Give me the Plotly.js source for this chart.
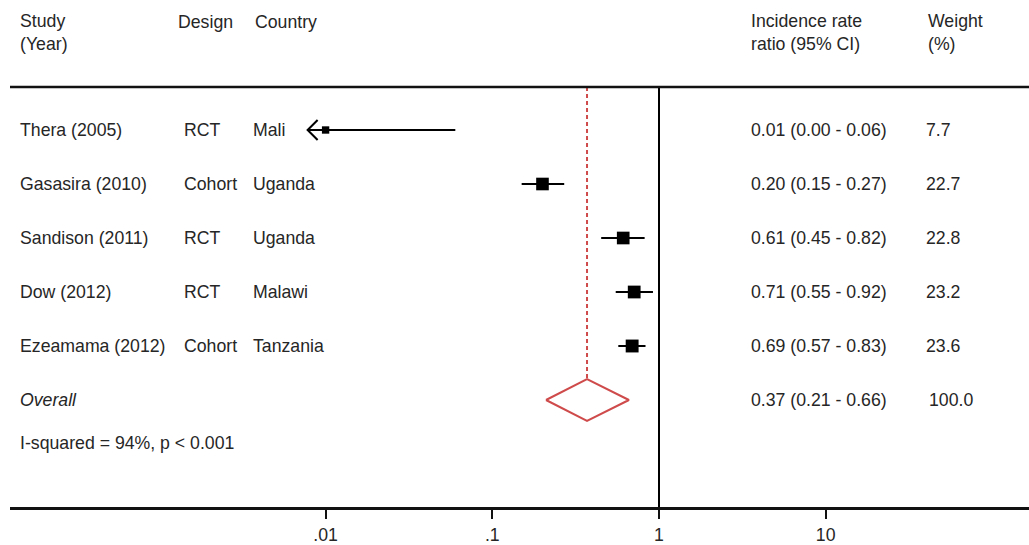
<!DOCTYPE html>
<html>
<head>
<meta charset="utf-8">
<script src="https://cdn.plot.ly/plotly-3.0.1.min.js"></script>
<style>
  html, body { margin: 0; padding: 0; background: #fff; }
  #chart { width: 1029px; height: 545px; }
</style>
</head>
<body>
<div id="chart"></div>
<script>
// ---------- DATA ----------
const studies   = ['Thera (2005)', 'Gasasira (2010)', 'Sandison (2011)', 'Dow (2012)', 'Ezeamama (2012)'];
const designs   = ['RCT', 'Cohort', 'RCT', 'RCT', 'Cohort'];
const countries = ['Mali', 'Uganda', 'Uganda', 'Malawi', 'Tanzania'];
const irr       = [0.01, 0.20, 0.61, 0.71, 0.69];
const lowerCI   = [0.00, 0.15, 0.45, 0.55, 0.57];
const upperCI   = [0.06, 0.27, 0.82, 0.92, 0.83];
const weights   = [7.7, 22.7, 22.8, 23.2, 23.6];
const overallLabel = 'Overall';
const overallIRR   = [0.37];
const overallLower = [0.21];
const overallUpper = [0.66];
const overallWeight = [100.0];
const heterogeneity = 'I-squared = 94%, p < 0.001';
const tickValues = [0.01, 0.1, 1, 10];
const tickLabels = ['.01', '.1', '1', '10'];
const headerStudy = 'Study<br>(Year)';
const headerDesign = 'Design';
const headerCountry = 'Country';
const headerIRR = 'Incidence rate<br>ratio (95% CI)';
const headerWeight = 'Weight<br>(%)';

// ---------- LAYOUT CONSTANTS ----------
const W = 1029, H = 545;
const M = {l: 10, r: 0, t: 0, b: 38};
const plotH = H - M.t - M.b;          // 507
const row0px = 76, rowStep = 54;      // pixel of row 0 and spacing
const ciClip = 0.0078;                // display limit for off-scale CI (arrow)
const FONT = 'Liberation Sans, Arial, Helvetica, sans-serif';
const FS = 17.7;
const TXT = '#262626';
const RED = '#cf4b4b';
const pxToRow = px => (px - row0px) / rowStep;
const pxToPaperX = px => (px - 2 - M.l) / (W - M.l - M.r);
const topLineRow = pxToRow(87);
const diamondHalf = 21 / rowStep;
const decadePx = 166.7;
const xLogMin = (M.l - 659) / decadePx;
const xLogMax = (W - M.r - 659) / decadePx;

const rows = studies.map((s, i) => i + 1);
const overallRow = studies.length + 1;

const traces = [];

// reference line at 1
traces.push({x: [1, 1], y: [topLineRow, pxToRow(plotH)], mode: 'lines',
  line: {color: '#000', width: 2}, hoverinfo: 'skip', showlegend: false, cliponaxis: false});
// dashed overall line
traces.push({x: [overallIRR[0], overallIRR[0]], y: [topLineRow, overallRow - diamondHalf], mode: 'lines',
  line: {color: RED, width: 2, dash: '4px,3px'}, hoverinfo: 'skip', showlegend: false});

// CI lines
studies.forEach((s, i) => {
  const lo = Math.max(lowerCI[i], ciClip);
  traces.push({x: [lo, upperCI[i]], y: [rows[i], rows[i]], mode: 'lines',
    line: {color: '#000', width: 2}, hoverinfo: 'skip', showlegend: false});
  if (lowerCI[i] < ciClip) {
    const arm = Math.pow(10, 10 / decadePx);
    const dy = 10 / rowStep;
    traces.push({x: [ciClip * arm, ciClip, ciClip * arm], y: [rows[i] - dy, rows[i], rows[i] + dy],
      mode: 'lines', line: {color: '#000', width: 2}, hoverinfo: 'skip', showlegend: false});
  }
});

// boxes (side ~ sqrt(weight))
traces.push({x: irr, y: rows, mode: 'markers', type: 'scatter',
  marker: {symbol: 'square', color: '#000', opacity: 1,
           size: weights.map(w => Math.max(6, 2.65 * Math.sqrt(w))), line: {width: 0}},
  hoverinfo: 'skip', showlegend: false});

// diamond
traces.push({x: [overallLower[0], overallIRR[0], overallUpper[0], overallIRR[0], overallLower[0]],
  y: [overallRow, overallRow - diamondHalf, overallRow, overallRow + diamondHalf, overallRow],
  mode: 'lines', line: {color: RED, width: 2}, hoverinfo: 'skip', showlegend: false});

// ---------- TEXT ----------
const ann = [];
const addText = (px, row, text, extra) => ann.push(Object.assign({
  xref: 'paper', yref: 'y', x: pxToPaperX(px), y: row, text: text,
  xanchor: 'left', yanchor: 'middle', showarrow: false,
  font: {family: FONT, size: FS, color: TXT}, align: 'left'
}, extra || {}));

const headerRow = pxToRow(32.5);
addText(20, headerRow, headerStudy);
addText(178, pxToRow(22), headerDesign);
addText(255, pxToRow(22), headerCountry);
addText(751, headerRow, headerIRR);
addText(928, headerRow, headerWeight);

studies.forEach((s, i) => {
  addText(20, rows[i], s);
  addText(184, rows[i], designs[i]);
  addText(253, rows[i], countries[i]);
  addText(751, rows[i], irr[i].toFixed(2) + ' (' + lowerCI[i].toFixed(2) + ' - ' + upperCI[i].toFixed(2) + ')');
  addText(926, rows[i], weights[i].toFixed(1));
});
addText(20, overallRow, '<i>' + overallLabel + '</i>');
addText(751, overallRow, overallIRR[0].toFixed(2) + ' (' + overallLower[0].toFixed(2) + ' - ' + overallUpper[0].toFixed(2) + ')');
addText(929, overallRow, overallWeight[0].toFixed(1));
addText(20, pxToRow(443), heterogeneity);

const layout = {
  width: W, height: H,
  margin: M,
  paper_bgcolor: '#fff', plot_bgcolor: '#fff',
  showlegend: false,
  xaxis: {
    type: 'log', range: [xLogMin, xLogMax], fixedrange: true,
    tickvals: tickValues, ticktext: tickLabels,
    showgrid: false, zeroline: false,
    showline: true, linecolor: '#111', linewidth: 2.5,
    ticks: 'outside', ticklen: 9, tickwidth: 2, tickcolor: '#111',
    ticklabelstandoff: 1,
    tickfont: {family: FONT, size: FS, color: TXT}
  },
  yaxis: {
    range: [pxToRow(plotH), pxToRow(0)], visible: false, fixedrange: true,
    showgrid: false, zeroline: false
  },
  shapes: [
    {type: 'line', xref: 'paper', yref: 'y', x0: 0, x1: 1, y0: topLineRow, y1: topLineRow,
     line: {color: '#111', width: 2.5}}
  ],
  annotations: ann
};

Plotly.newPlot('chart', traces, layout, {staticPlot: true, displayModeBar: false});
</script>
</body>
</html>
